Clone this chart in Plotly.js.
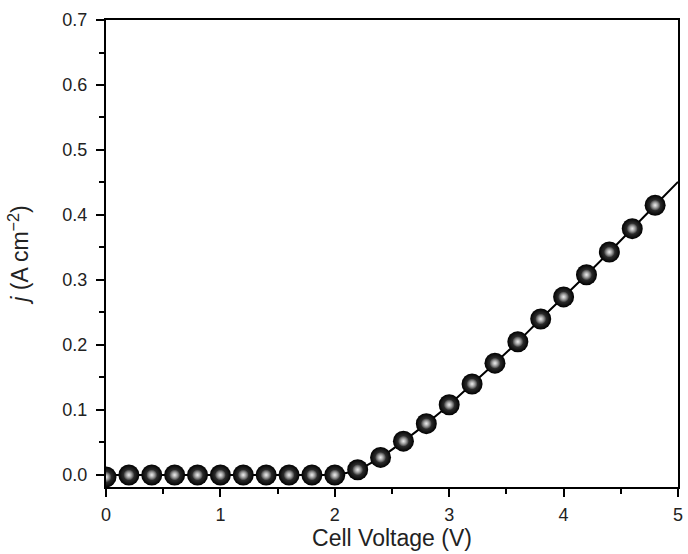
<!DOCTYPE html>
<html>
<head>
<meta charset="utf-8">
<script src="https://cdn.plot.ly/plotly-3.0.1.min.js"></script>
<style>html,body{margin:0;padding:0;background:#fff;}#chart{width:688px;height:554px;}</style>
</head>
<body>
<div id="chart"></div>
<script>
// Data
var voltage = [0, 0.2, 0.4, 0.6, 0.8, 1.0, 1.2, 1.4, 1.6, 1.8, 2.0, 2.2, 2.4, 2.6, 2.8, 3.0, 3.2, 3.4, 3.6, 3.8, 4.0, 4.2, 4.4, 4.6, 4.8];
var current = [-0.003, 0, 0, 0, 0, 0, 0, 0, 0, 0, 0, 0.008, 0.027, 0.052, 0.079, 0.108, 0.140, 0.172, 0.205, 0.240, 0.274, 0.308, 0.343, 0.379, 0.415];
var fitVoltage = [0, 0.5, 1.0, 1.5, 1.9, 2.0, 2.1, 2.2, 2.4, 2.6, 2.8, 3.0, 3.2, 3.4, 3.6, 3.8, 4.0, 4.2, 4.4, 4.6, 4.8, 5.0];
var fitCurrent = [0, 0, 0, 0, 0, 0.001, 0.003, 0.008, 0.027, 0.052, 0.079, 0.108, 0.140, 0.172, 0.205, 0.240, 0.274, 0.308, 0.343, 0.379, 0.415, 0.451];
var xTicks = [0, 1, 2, 3, 4, 5];
var yTicks = [0.0, 0.1, 0.2, 0.3, 0.4, 0.5, 0.6, 0.7];

var traces = [
  {x: fitVoltage, y: fitCurrent, mode: 'lines', type: 'scatter',
   line: {color: '#000', width: 2, shape: 'spline'}, hoverinfo: 'skip', showlegend: false},
  {x: voltage, y: current, mode: 'markers', type: 'scatter', showlegend: false,
   marker: {size: 21, color: '#000', line: {width: 0},
            gradient: {type: 'radial', color: '#5a5a5a'}}},
  {x: voltage, y: current, mode: 'markers', type: 'scatter', showlegend: false, hoverinfo: 'skip',
   marker: {size: 11, color: 'rgba(255,255,255,0)', line: {width: 0},
            gradient: {type: 'radial', color: 'rgba(235,235,235,1)'}}}
];

var fam = 'Arial, "Liberation Sans", sans-serif';
var txt = '#222';
var layout = {
  width: 688, height: 554,
  margin: {l: 106, r: 8, t: 20, b: 67},
  paper_bgcolor: '#fff', plot_bgcolor: '#fff',
  font: {family: fam, color: txt},
  showlegend: false,
  xaxis: {
    range: [0, 5], tickvals: xTicks, ticktext: xTicks.map(String),
    ticks: 'outside', ticklen: 8, tickwidth: 2, tickcolor: '#000',
    minor: {dtick: 0.5, tick0: 0, ticks: 'outside', ticklen: 5, tickwidth: 2, tickcolor: '#000', showgrid: false},
    showline: true, linewidth: 2, linecolor: '#000', mirror: true,
    showgrid: false, zeroline: false,
    tickfont: {size: 18, family: fam, color: txt},
    ticklabelstandoff: 2,
    title: {text: 'Cell Voltage (V)', font: {size: 23, family: fam, color: txt}, standoff: 6}
  },
  yaxis: {
    range: [-0.0185, 0.7], tickvals: yTicks, ticktext: yTicks.map(function(v){return v.toFixed(1);}),
    ticks: 'outside', ticklen: 8, tickwidth: 2, tickcolor: '#000',
    minor: {dtick: 0.05, tick0: 0, ticks: 'outside', ticklen: 5, tickwidth: 2, tickcolor: '#000', showgrid: false},
    showline: true, linewidth: 2, linecolor: '#000', mirror: true,
    showgrid: false, zeroline: false, automargin: true,
    tickfont: {size: 18, family: fam, color: txt},
    ticklabelstandoff: 5,
    title: {text: '<i>j</i> (A cm<sup>\u22122</sup>)', font: {size: 23, family: fam, color: txt}, standoff: 27}
  }
};
Plotly.newPlot('chart', traces, layout, {displayModeBar: false, staticPlot: true});
</script>
</body>
</html>
